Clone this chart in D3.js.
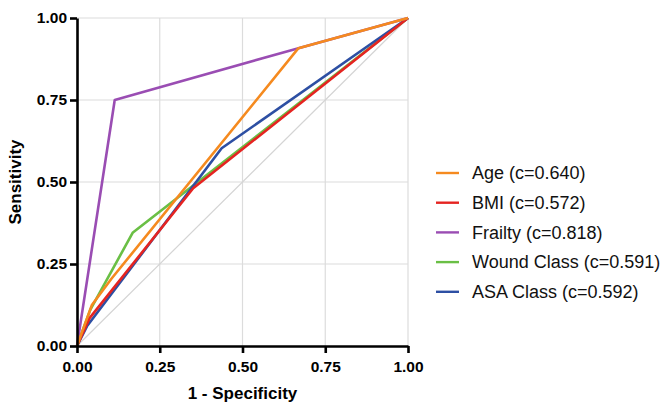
<!DOCTYPE html>
<html>
<head>
<meta charset="utf-8">
<script src="https://cdn.jsdelivr.net/npm/d3@7"></script>
<style>
  body { margin: 0; background: #fff; }
  text { font-family: "Liberation Sans", Arial, sans-serif; }
</style>
</head>
<body>
<div id="chart"></div>
<script>
const width = 665
const height = 405
const margin = {top: 18, right: 257, bottom: 59, left: 77}

// ROC points: [1 - specificity, sensitivity]
const agePts = [[0, 0], [0.045, 0.125], [0.104, 0.205], [0.669, 0.908], [1, 1]]
const bmiPts = [[0, 0], [0.038, 0.085], [0.351, 0.481], [1, 1]]
const frailtyPts = [[0, 0], [0.114, 0.75], [0.669, 0.908], [1, 1]]
const woundPts = [[0, 0], [0.04, 0.11], [0.168, 0.345], [1, 1]]
const asaPts = [[0, 0], [0.03, 0.06], [0.437, 0.603], [1, 1]]

const seriesNames = ["Age (c=0.640)", "BMI (c=0.572)", "Frailty (c=0.818)", "Wound Class (c=0.591)", "ASA Class (c=0.592)"]
const seriesColors = ["#f58a1f", "#e52421", "#9a4db3", "#6abf45", "#2d4fa3"]
const seriesPts = [agePts, bmiPts, frailtyPts, woundPts, asaPts]
// drawing order, last on top
const drawOrder = [3, 4, 1, 2, 0]

const ticks = [0, 0.25, 0.5, 0.75, 1]

const innerW = width - margin.left - margin.right
const innerH = height - margin.top - margin.bottom

const svg = d3.select("#chart")
  .append("svg")
    .attr("width", width)
    .attr("height", height)

const g = svg.append("g")
    .attr("transform", "translate(" + margin.left + "," + margin.top + ")")

let x = d3.scaleLinear().domain([0, 1]).range([0, innerW])
let y = d3.scaleLinear().domain([0, 1]).range([innerH, 0])

// grid
g.selectAll(".vgrid")
  .data(ticks.slice(1))
  .enter()
  .append("line")
    .attr("x1", d => x(d)).attr("x2", d => x(d))
    .attr("y1", 0).attr("y2", innerH)
    .attr("stroke", "#dcdcdc")
    .attr("stroke-width", 1.2)
g.selectAll(".hgrid")
  .data(ticks.slice(1))
  .enter()
  .append("line")
    .attr("x1", 0).attr("x2", innerW)
    .attr("y1", d => y(d)).attr("y2", d => y(d))
    .attr("stroke", "#dcdcdc")
    .attr("stroke-width", 1.2)

// chance diagonal
g.append("line")
  .attr("x1", x(0)).attr("y1", y(0))
  .attr("x2", x(1)).attr("y2", y(1))
  .attr("stroke", "#d4d4d4")
  .attr("stroke-width", 1.2)

let line = d3.line()
  .x(d => x(d[0]))
  .y(d => y(d[1]))

drawOrder.forEach(i => {
  g.append("path")
    .datum(seriesPts[i])
    .attr("d", line)
    .attr("fill", "none")
    .attr("stroke", seriesColors[i])
    .attr("stroke-width", 2.6)
    .attr("stroke-linejoin", "round")
})

// axes
let xAxis = g.append("g")
  .attr("transform", "translate(0," + innerH + ")")
  .call(d3.axisBottom(x).tickValues(ticks).tickFormat(d3.format(".2f")).tickSize(7).tickSizeOuter(0))
let yAxis = g.append("g")
  .call(d3.axisLeft(y).tickValues(ticks).tickFormat(d3.format(".2f")).tickSize(7).tickSizeOuter(0))

;[xAxis, yAxis].forEach(a => {
  a.select(".domain").attr("stroke", "#000").attr("stroke-width", 2.6)
  a.selectAll(".tick line").attr("stroke", "#000").attr("stroke-width", 2.6)
  a.selectAll(".tick text")
    .attr("font-family", "'Liberation Sans', Arial, sans-serif")
    .attr("font-size", "15.5px")
    .attr("font-weight", "bold")
    .attr("fill", "#000")
})
xAxis.selectAll(".tick text").attr("dy", "1.05em")
yAxis.selectAll(".tick text").attr("x", -10)

// axis titles
svg.append("text")
  .attr("x", margin.left + innerW / 2)
  .attr("y", 399)
  .attr("text-anchor", "middle")
  .attr("font-size", "17px")
  .attr("font-weight", "bold")
  .text("1 - Specificity")
svg.append("text")
  .attr("transform", "translate(21," + (margin.top + innerH / 2) + ") rotate(-90)")
  .attr("text-anchor", "middle")
  .attr("font-size", "17px")
  .attr("font-weight", "bold")
  .text("Sensitivity")

// legend
let legend = svg.append("g")
  .attr("transform", "translate(436,173)")

seriesNames.forEach((name, i) => {
  let row = legend.append("g").attr("transform", "translate(0," + (i * 29.7) + ")")
  row.append("line")
    .attr("x1", 0).attr("x2", 23)
    .attr("y1", 0).attr("y2", 0)
    .attr("stroke", seriesColors[i])
    .attr("stroke-width", 2.4)
  row.append("text")
    .attr("x", 36)
    .attr("y", 0)
    .attr("dy", "0.35em")
    .attr("font-size", "18px")
    .attr("fill", "#111")
    .text(name)
})
</script>
</body>
</html>
